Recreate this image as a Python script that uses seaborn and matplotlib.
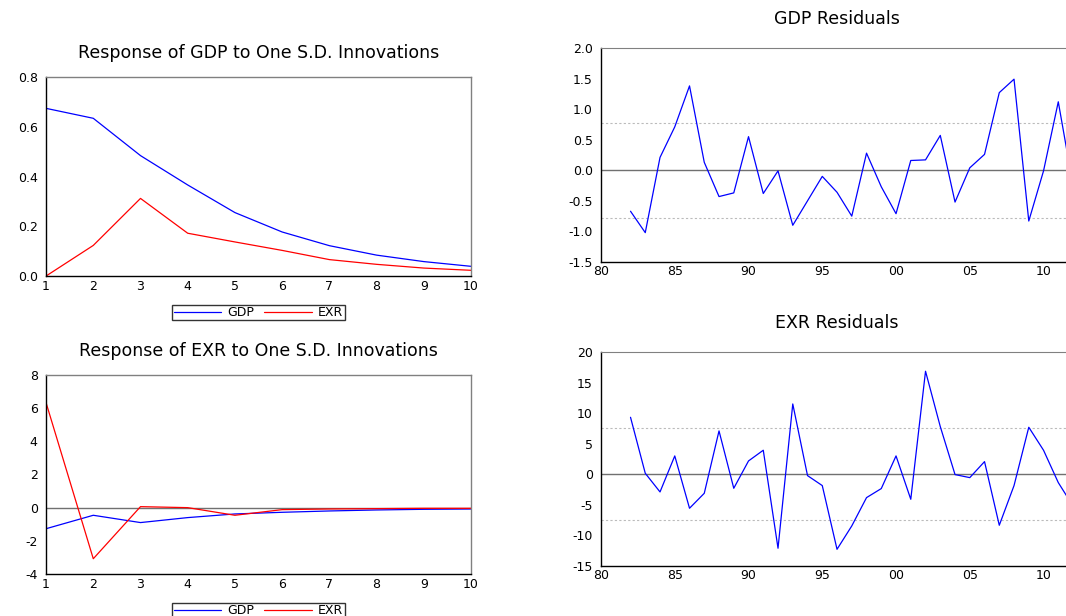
import pandas as pd
import numpy as np
import matplotlib.pyplot as plt
import seaborn as sns

# dados

periods = [1, 2, 3, 4, 5, 6, 7, 8, 9, 10]

# resposta do GDP
gdp_to_gdp = [0.674, 0.634, 0.484, 0.366, 0.255, 0.177, 0.122, 0.084, 0.058, 0.039]
gdp_to_exr = [0.0, 0.123, 0.312, 0.172, 0.137, 0.103, 0.066, 0.047, 0.032, 0.023]

# resposta do EXR
exr_to_gdp = [-1.27, -0.46, -0.90, -0.60, -0.38, -0.28, -0.20, -0.14, -0.10, -0.08]
exr_to_exr = [6.33, -3.08, 0.06, 0.0, -0.46, -0.12, -0.08, -0.06, -0.04, -0.04]

# residuos
years = list(range(1982, 2013))
gdp_resid = [-0.67, -1.02, 0.21, 0.71, 1.38, 0.13, -0.43, -0.37, 0.55, -0.38,
             -0.01, -0.90, -0.50, -0.10, -0.36, -0.75, 0.28, -0.27, -0.71, 0.16,
             0.17, 0.57, -0.52, 0.04, 0.26, 1.27, 1.49, -0.83, -0.01, 1.12,
             -0.25]
exr_resid = [9.32, 0.16, -2.89, 3.0, -5.56, -3.11, 7.09, -2.29, 2.18, 3.93,
             -12.1, 11.5, -0.22, -1.85, -12.27, -8.45, -3.82, -2.34, 3.0, -4.09,
             16.85, 7.8, -0.05, -0.55, 2.07, -8.34, -1.85, 7.69, 3.93, -1.36,
             -5.2]
gdp_se = 0.78
exr_se = 7.55

sns.set_style("white")
plt.rcParams['font.family'] = ['DejaVu Sans']
plt.rcParams['text.color'] = 'black'
plt.rcParams['xtick.color'] = 'black'
plt.rcParams['ytick.color'] = 'black'

cores = {"GDP": "#0000FF", "EXR": "#FF0000"}
fig = plt.figure(figsize=(10.66, 6.16), dpi=100)


def painel_resposta(pos, gdp_vals, exr_vals, titulo, ylim, yticks, fmt):
    ax = fig.add_axes(pos)
    df = pd.DataFrame({
        "period": periods * 2,
        "value": gdp_vals + exr_vals,
        "serie": ["GDP"] * 10 + ["EXR"] * 10,
    })
    sns.lineplot(data=df, x="period", y="value", hue="serie", palette=cores,
                 linewidth=0.9, ax=ax)
    ax.set_xlim(1, 10)
    ax.set_ylim(*ylim)
    ax.set_yticks(yticks)
    ax.set_yticklabels([fmt.format(v) for v in yticks])
    ax.set_xticks(periods)
    ax.set_xlabel("")
    ax.set_ylabel("")
    ax.set_title(titulo, fontsize=12.5, pad=14, color="black")
    ax.tick_params(axis="y", direction="out", length=4, width=0.8,
                   labelsize=9, pad=2)
    ax.tick_params(axis="x", direction="in", length=3, width=0.8,
                   labelsize=9, pad=3)
    for s in ["top", "right"]:
        ax.spines[s].set_color("#808080")
        ax.spines[s].set_linewidth(1.0)
    for s in ["left", "bottom"]:
        ax.spines[s].set_color("black")
        ax.spines[s].set_linewidth(1.0)
    leg = ax.legend(loc="upper center", bbox_to_anchor=(0.5, -0.145), ncol=2,
                    frameon=True, fancybox=False, fontsize=9,
                    handlelength=3.8, columnspacing=0.8, borderpad=0.1,
                    handletextpad=0.5, borderaxespad=0)
    leg.get_frame().set_edgecolor("black")
    leg.get_frame().set_linewidth(1.0)
    return ax


ax1 = painel_resposta([0.0432, 0.5519, 0.3987, 0.3231], gdp_to_gdp, gdp_to_exr,
                      "Response of GDP to One S.D. Innovations", (0, 0.8),
                      [0.0, 0.2, 0.4, 0.6, 0.8], "{:.1f}")

ax2 = painel_resposta([0.0432, 0.0682, 0.3987, 0.3231], exr_to_gdp, exr_to_exr,
                      "Response of EXR to One S.D. Innovations", (-4, 8),
                      [-4, -2, 0, 2, 4, 6, 8], "{:d}")
ax2.axhline(0, color="#707070", linewidth=1.0, zorder=0)


def painel_residuo(pos, vals, se, titulo, ylim, yticks, fmt):
    ax = fig.add_axes(pos)
    df = pd.DataFrame({"year": years, "value": vals})
    sns.lineplot(data=df, x="year", y="value", color="#0000FF",
                 linewidth=0.9, ax=ax)
    ax.axhline(0, color="#707070", linewidth=1.0, zorder=0)
    ax.axhline(se, color="#BBBBBB", linewidth=0.8, linestyle=(0, (2, 2)),
               zorder=0)
    ax.axhline(-se, color="#BBBBBB", linewidth=0.8, linestyle=(0, (2, 2)),
               zorder=0)
    ax.set_xlim(1980, 2012)
    ax.set_ylim(*ylim)
    ax.set_yticks(yticks)
    ax.set_yticklabels([fmt.format(v) for v in yticks])
    ax.set_xticks([1980, 1985, 1990, 1995, 2000, 2005, 2010])
    ax.set_xticklabels(["80", "85", "90", "95", "00", "05", "10"])
    ax.set_xticks(range(1980, 2013), minor=True)
    ax.set_xlabel("")
    ax.set_ylabel("")
    ax.set_title(titulo, fontsize=12.5, pad=17, color="black")
    ax.tick_params(axis="y", direction="out", length=4, width=0.8,
                   labelsize=9, pad=2)
    ax.tick_params(axis="x", which="both", direction="in", length=3,
                   width=0.8, labelsize=9, pad=2)
    ax.spines["top"].set_color("#808080")
    ax.spines["right"].set_visible(False)
    for s in ["left", "bottom"]:
        ax.spines[s].set_color("black")
        ax.spines[s].set_linewidth(1.0)
    return ax


ax3 = painel_residuo([0.5638, 0.5747, 0.4428, 0.3474], gdp_resid, gdp_se,
                     "GDP Residuals", (-1.5, 2.0),
                     [-1.5, -1.0, -0.5, 0.0, 0.5, 1.0, 1.5, 2.0], "{:.1f}")
ax4 = painel_residuo([0.5638, 0.0812, 0.4428, 0.3474], exr_resid, exr_se,
                     "EXR Residuals", (-15, 20),
                     [-15, -10, -5, 0, 5, 10, 15, 20], "{:d}")

fig.savefig("out.png", dpi=100)
